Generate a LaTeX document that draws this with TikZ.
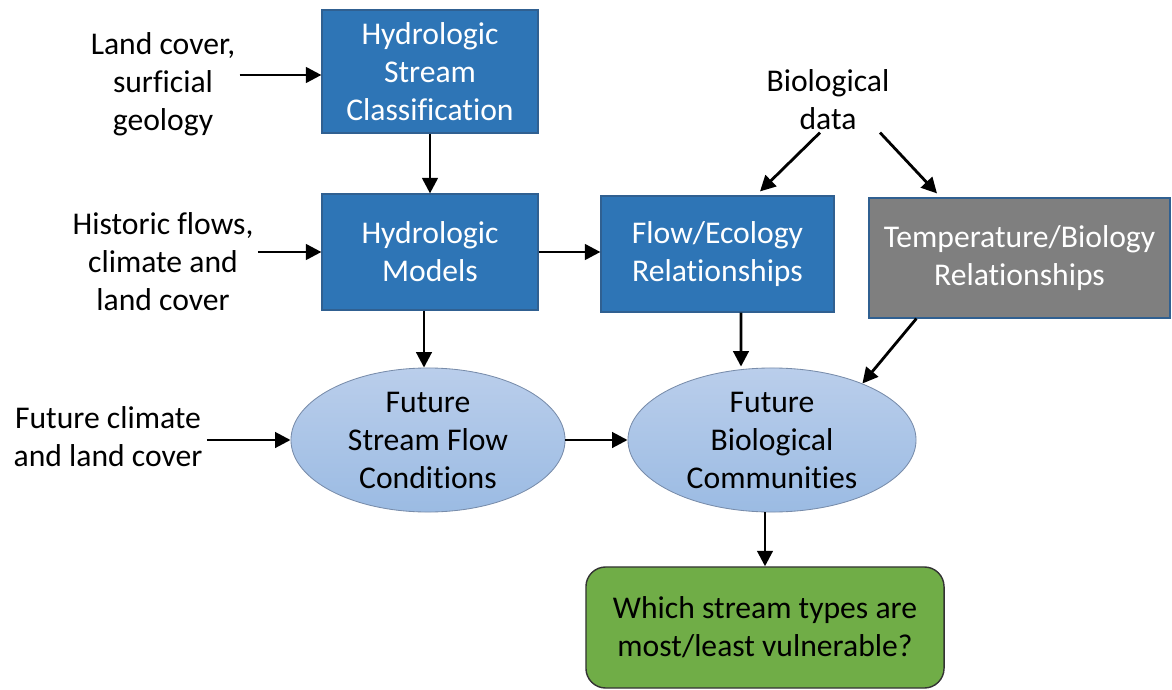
\documentclass[tikz,border=0pt]{standalone}
\usepackage{fontspec}
\setmainfont{Carlito}[Ligatures=NoCommon]
\usetikzlibrary{calc,arrows.meta,positioning,shapes.geometric}
\definecolor{hydblue}{RGB}{46,117,182}
\definecolor{hydblueb}{RGB}{48,96,145}
\definecolor{tempgray}{RGB}{127,127,127}
\definecolor{questgreen}{RGB}{112,173,71}
\definecolor{futtop}{RGB}{186,206,235}
\definecolor{futbot}{RGB}{155,187,227}
\definecolor{futline}{RGB}{120,140,170}
\tikzset{
  hbox/.style ={rectangle, draw=hydblueb, fill=hydblue, line width=0.8pt,
                text=white, align=center, inner sep=2pt,
                font=\fontsize{22.5}{27}\selectfont},
  hgray/.style={hbox, fill=tempgray, draw=hydblueb},
  hfut/.style ={ellipse, draw=futline, line width=0.6pt, top color=futtop,
                bottom color=futbot, align=center, inner sep=0pt,
                minimum height=3.6cm, font=\fontsize{22.5}{27}\selectfont},
  hquest/.style={rectangle, rounded corners=14pt, draw=black!80, fill=questgreen,
                 line width=1pt, align=center, minimum width=8.95cm,
                 minimum height=3.025cm, font=\fontsize{22.5}{27}\selectfont},
  hinput/.style={align=center, inner sep=3pt, font=\fontsize{22.5}{27}\selectfont},
  harr/.style ={-{Triangle[length=11pt,width=11pt]}, line width=2pt},
}
\begin{document}
\begin{tikzpicture}[x=0.025cm, y=-0.025cm]
  \useasboundingbox (0,0) rectangle (1172,690);
  % boxes
  \node[hbox, minimum width=5.4cm, minimum height=3.075cm] (hsc) at (430,71.5)
    {Hydrologic\\Stream\\Classification};
  \node[hbox, minimum width=5.4cm, minimum height=2.9cm] (hm) at (430,252)
    {Hydrologic\\Models};
  \node[hbox, minimum width=5.825cm, minimum height=2.9cm] (fe) at (717.5,254)
    {Flow/Ecology\\Relationships};
  \node[hgray, minimum width=7.525cm, minimum height=3cm] (tb) at (1019.5,258)
    {Temperature/Biology\\Relationships};
  % ellipses
  \node[hfut, minimum width=6.85cm] (fsf) at (428,440) {Future\\Stream Flow\\Conditions};
  \node[hfut, minimum width=7.2cm] (fbc) at (772,440) {Future\\Biological\\Communities};
  \node[hquest] (vq) at (765,627.5) {Which stream types are\\most/least vulnerable?};
  % inputs
  \node[hinput] (lc) at (163,84) {Land cover,\\surficial\\geology};
  \node[hinput] (hf) at (163,262) {Historic flows,\\climate and\\land cover};
  \node[hinput] (bd) at (828,100) {Biological\\data};
  \node[hinput] (fc) at (108,437) {Future climate\\and land cover};
  % connectors
  \draw[harr] (lc.east |- 0,75) -- (hsc.west |- 0,75);
  \draw[harr] (hsc) -- (hm);
  \draw[harr] (hf.east |- hm) -- (hm);
  \draw[harr] (hm) -- (fe.west |- hm);
  \draw[harr] ($(bd.south)+(-8,-2)$) -- ($(fe.north)+(42.5,-4)$);
  \draw[harr] ($(bd.south)+(52,-2)$) -- ($(tb.north)+(-82.5,-4)$);
  \draw[harr] (hm.south -| 424,0) -- (fsf.north -| 424,0);
  \draw[harr] ($(fe.south)+(23.5,0)$) -- ($(fbc.north)+(-31,-1)$);
  \draw[harr] ($(tb.south west)+(48,0)$) -- (fbc.32);
  \draw[harr] (fc.east |- fsf.west) -- (fsf.west);
  \draw[harr] (fsf.east) -- (fbc.west);
  \draw[harr] (fbc.south -| vq.north) -- (vq.north);
\end{tikzpicture}
\end{document}
